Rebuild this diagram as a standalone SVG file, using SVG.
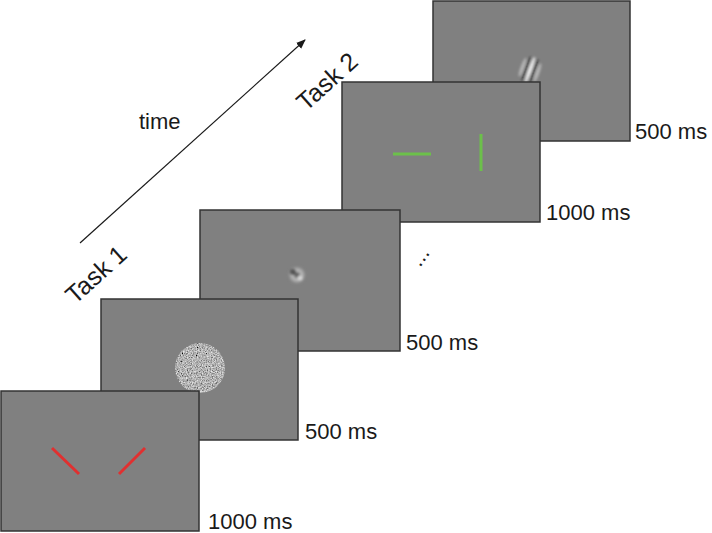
<svg xmlns="http://www.w3.org/2000/svg" width="712" height="533" viewBox="0 0 712 533">
<style>
.fr{fill:#808080;stroke:#333;stroke-width:1.5}
.t{font-family:"Liberation Sans",Arial,sans-serif;font-size:22px;fill:#1a1a1a}
.tk{font-family:"Liberation Sans",Arial,sans-serif;font-size:25px;fill:#1a1a1a}
</style>
<defs>
<marker id="ah" viewBox="0 0 10 10" refX="9" refY="5" markerWidth="8" markerHeight="8" orient="auto"><path d="M0,1 L10,5 L0,9 z" fill="#1a1a1a"/></marker>
<filter id="nz"><feTurbulence type="fractalNoise" baseFrequency="0.8" numOctaves="2" seed="5" result="t"/><feColorMatrix in="t" type="saturate" values="0"/><feComponentTransfer><feFuncR type="linear" slope="1.6" intercept="-0.35"/><feFuncG type="linear" slope="1.6" intercept="-0.35"/><feFuncB type="linear" slope="1.6" intercept="-0.35"/><feFuncA type="linear" slope="0" intercept="1"/></feComponentTransfer><feComposite in2="SourceGraphic" operator="in"/></filter>
<radialGradient id="blob"><stop offset="0" stop-color="#444"/><stop offset="0.5" stop-color="#bbb"/><stop offset="1" stop-color="#808080"/></radialGradient>
<filter id="bl"><feGaussianBlur stdDeviation="1.2"/></filter>
</defs>
<g id="connectors">
<line x1="80" y1="243" x2="305" y2="40" stroke="#1a1a1a" stroke-width="1.2" marker-end="url(#ah)"/>
</g>
<g id="frame5">
<rect class="fr" x="433" y="1" width="197" height="140"/>
<g transform="translate(530,70) rotate(20)" filter="url(#bl)">
<ellipse cx="-8" cy="0" rx="2" ry="10" fill="#fff" opacity="0.4"/>
<ellipse cx="-4" cy="0" rx="1.8" ry="13" fill="#111" opacity="0.6"/>
<ellipse cx="0" cy="0" rx="2" ry="14" fill="#fff" opacity="0.8"/>
<ellipse cx="4" cy="0" rx="1.8" ry="13" fill="#111" opacity="0.6"/>
<ellipse cx="8" cy="0" rx="2" ry="10" fill="#fff" opacity="0.4"/>
</g>
<text class="t" x="635" y="139">500 ms</text>
</g>
<g id="frame4">
<rect class="fr" x="342" y="82" width="198" height="140"/>
<line x1="393" y1="154" x2="431" y2="154" stroke="#6cc04a" stroke-width="3"/>
<line x1="481" y1="134" x2="481" y2="171" stroke="#6cc04a" stroke-width="3"/>
<text class="t" x="546" y="220">1000 ms</text>
</g>
<g id="frame3">
<rect class="fr" x="200" y="210" width="200" height="141"/>
<g filter="url(#bl)">
<circle cx="297" cy="275" r="9" fill="url(#blob)"/>
<circle cx="293" cy="272" r="3" fill="#333" opacity="0.7"/>
<circle cx="300" cy="278" r="2.5" fill="#ddd" opacity="0.8"/>
</g>
<text class="t" x="406" y="350">500 ms</text>
</g>
<g id="frame2">
<rect class="fr" x="101" y="299" width="197" height="141"/>
<circle cx="200" cy="368" r="25" fill="#999" filter="url(#nz)"/>
<text class="t" x="305" y="439">500 ms</text>
</g>
<g id="frame1">
<rect class="fr" x="1" y="391" width="198" height="140"/>
<line x1="52" y1="448" x2="79" y2="474" stroke="#e03030" stroke-width="3"/>
<line x1="119" y1="474" x2="145" y2="448" stroke="#e03030" stroke-width="3"/>
<text class="t" x="208" y="529">1000 ms</text>
</g>
<text class="t" x="139" y="129">time</text>
<text class="tk" transform="translate(75,305) rotate(-42)">Task 1</text>
<text class="tk" transform="translate(306,112) rotate(-42)">Task 2</text>
<text class="t" transform="translate(420,268) rotate(-55)">...</text>
</svg>
